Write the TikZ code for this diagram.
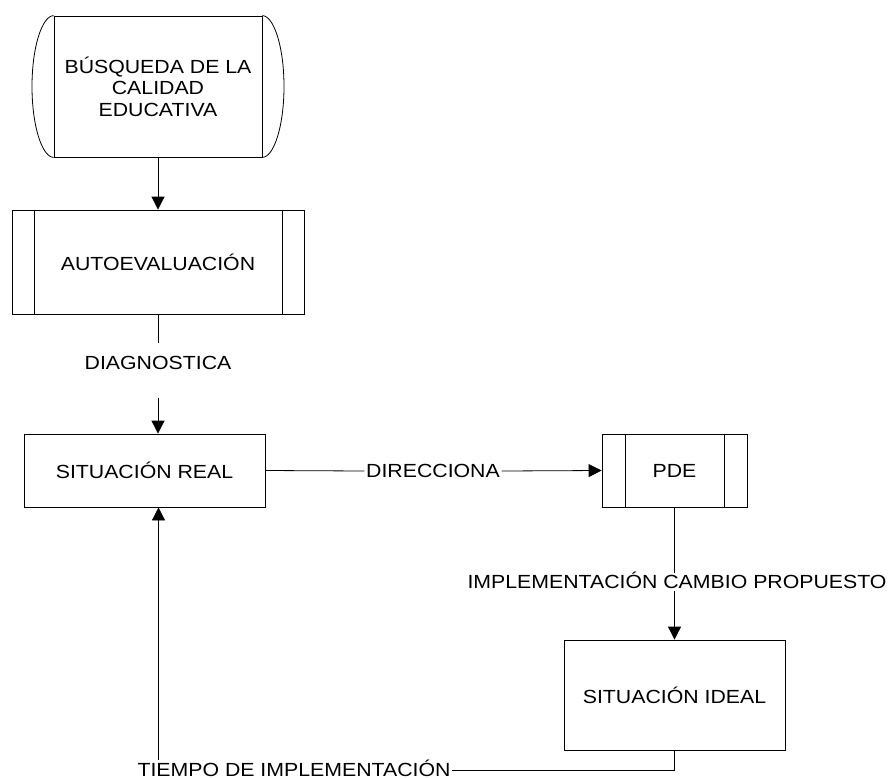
\documentclass[tikz,border=0pt]{standalone}
\usepackage{fontspec}
\setmainfont{Liberation Sans}[FakeStretch=1.12]
\usetikzlibrary{arrows.meta}
\newcommand{\fs}{\fontsize{19}{21.5}\selectfont}
\begin{document}
\begin{tikzpicture}[x=1pt,y=-1pt, line width=0.8pt,
  box/.style={draw, rectangle, inner sep=0pt, align=center, font=\fs},
  lbl/.style={fill=white, inner sep=0pt, text height=13.5pt, text depth=0pt, font=\fs},
  arr/.style={-{Triangle[length=13pt,width=13pt]}}]
\useasboundingbox (0,0) rectangle (889,779);

% nodes
\node[box, minimum width=208pt, minimum height=141pt] (busq) at (158,86.5) {BÚSQUEDA DE LA\\CALIDAD\\EDUCATIVA};
\draw (busq.north west) .. controls (41.85,16) and (32,47.6) .. (32,86.5) .. controls (32,125.4) and (41.85,157) .. (busq.south west);
\draw (busq.north east) .. controls (274.15,16) and (284,47.6) .. (284,86.5) .. controls (284,125.4) and (274.15,157) .. (busq.south east);

\node[box, minimum width=292pt, minimum height=104pt] (auto) at (158,262) {AUTOEVALUACIÓN};
\draw ([xshift=23pt]auto.north west) -- ([xshift=23pt]auto.south west);
\draw ([xshift=-22pt]auto.north east) -- ([xshift=-22pt]auto.south east);

\node[box, minimum width=241pt, minimum height=73pt] (real) at (144.5,470.5) {SITUACIÓN REAL};

\node[box, minimum width=145pt, minimum height=73pt] (pde) at (674.5,470.5) {PDE};
\draw ([xshift=24pt]pde.north west) -- ([xshift=24pt]pde.south west);
\draw ([xshift=-23pt]pde.north east) -- ([xshift=-23pt]pde.south east);

\node[box, minimum width=221pt, minimum height=110pt] (ideal) at (674.5,695) {SITUACIÓN IDEAL};

% labels
\node[lbl] (diag) at (158,362.5) {DIAGNOSTICA};
\node[lbl, inner xsep=1.5pt] (dir) at (433,471) {DIRECCIONA};
\node[lbl, inner ysep=2pt] (impl) at (677,582) {IMPLEMENTACIÓN CAMBIO PROPUESTO};
\node[lbl, inner xsep=1pt] (tiempo) at (294,770) {TIEMPO DE IMPLEMENTACIÓN};

% connectors
\draw[arr] (busq.south) -- (auto.north);
\draw (auto.south) -- ([yshift=12pt]diag.north);
\draw[arr] ([yshift=-28pt]diag.south) -- (diag.south |- real.north);
\draw (real.east) -- (dir.west);
\draw[arr] (dir.east) -- (pde.west);
\draw (pde.south) -- (impl.north -| pde.south);
\draw[arr] (impl.south -| pde.south) -- (ideal.north);
\draw (ideal.south) |- (tiempo.east);
\coordinate (rin) at ([xshift=14pt]real.south);
\draw[arr] ([yshift=3pt]tiempo.north -| rin) -- (rin);
\end{tikzpicture}
\end{document}
